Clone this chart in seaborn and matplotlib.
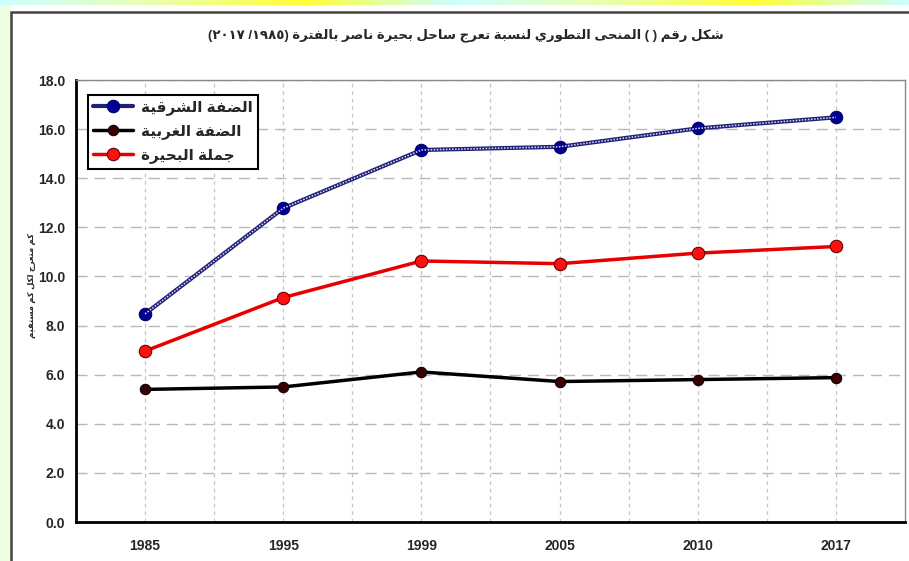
import numpy as np
import pandas as pd
import matplotlib
matplotlib.use("Agg")
import matplotlib.pyplot as plt
from matplotlib.patches import Rectangle
import seaborn as sns

# data
years = ["1985", "1995", "1999", "2005", "2010", "2017"]
east_bank = [8.48, 12.78, 15.15, 15.28, 16.03, 16.48]
west_bank = [5.40, 5.50, 6.11, 5.72, 5.80, 5.88]
lake_total = [6.96, 9.14, 10.63, 10.52, 10.95, 11.22]
y_ticks = [0, 2, 4, 6, 8, 10, 12, 14, 16, 18]

title_ar = "شكل رقم ( ) المنحى التطوري لنسبة تعرج ساحل بحيرة ناصر بالفترة"
title_years = "(٢٠١٧ /١٩٨٥) "
ylabel_ar = "كم متعرج لكل كم مستقيم"
names_ar = ["الضفة الشرقية", "الضفة الغربية", "جملة البحيرة"]

# minimal arabic shaping (presentation forms) since matplotlib has no RTL layout
AR = {
    "ا": (0xFE8D, 0), "ب": (0xFE8F, 1), "ة": (0xFE93, 0), "ت": (0xFE95, 1),
    "ث": (0xFE99, 1), "ج": (0xFE9D, 1), "ح": (0xFEA1, 1), "خ": (0xFEA5, 1),
    "د": (0xFEA9, 0), "ذ": (0xFEAB, 0), "ر": (0xFEAD, 0), "ز": (0xFEAF, 0),
    "س": (0xFEB1, 1), "ش": (0xFEB5, 1), "ص": (0xFEB9, 1), "ض": (0xFEBD, 1),
    "ط": (0xFEC1, 1), "ظ": (0xFEC5, 1), "ع": (0xFEC9, 1), "غ": (0xFECD, 1),
    "ف": (0xFED1, 1), "ق": (0xFED5, 1), "ك": (0xFED9, 1), "ل": (0xFEDD, 1),
    "م": (0xFEE1, 1), "ن": (0xFEE5, 1), "ه": (0xFEE9, 1), "و": (0xFEED, 0),
    "ى": (0xFEEF, 0), "ي": (0xFEF1, 1),
}


def ar(text):
    """Shape arabic letters and return them in visual (left-to-right) order."""
    out = []
    for i, c in enumerate(text):
        if c not in AR:
            out.append(c)
            continue
        base, dual = AR[c]
        prev = text[i - 1] if i > 0 else ""
        nxt = text[i + 1] if i + 1 < len(text) else ""
        jp = prev in AR and AR[prev][1] == 1
        jn = dual == 1 and nxt in AR
        if jp and jn:
            f = 3
        elif jp:
            f = 1
        elif jn:
            f = 2
        else:
            f = 0
        out.append(chr(base + f))
    s = "".join(out)[::-1]
    return s.translate(str.maketrans("()", ")("))


sns.set_theme(style="white")
plt.rcParams["font.family"] = ["Liberation Sans", "DejaVu Sans"]

fig = plt.figure(figsize=(9.09, 5.61), dpi=100)
W, H = 909, 561

# window-like decoration around the chart
fig.patches.append(Rectangle((0, 0), 11 / W, 1 - 5 / H, transform=fig.transFigure,
                             facecolor="#ecffe0", edgecolor="none", zorder=-2))
fig.patches.append(Rectangle((11 / W, -0.01), 1.0, 1 - 12 / H + 0.01, transform=fig.transFigure,
                             facecolor="white", edgecolor="#444444", lw=1.8, zorder=-1))
grad = fig.add_axes([0, 1 - 5 / H, 1, 5 / H])
grad.imshow(np.linspace(0, 1, 200)[None, :], aspect="auto",
            cmap=matplotlib.colors.LinearSegmentedColormap.from_list(
                "g", ["#ccffff", "#eaffb0", "#ffff33", "#ccffff", "#eaffb0", "#ffff33", "#ccffff"]))
grad.axis("off")

ax = fig.add_axes([76 / W, 1 - 522 / H, 829 / W, 442 / H])
ax.set_zorder(3)
x = np.arange(len(years))

df = pd.DataFrame({"x": x, "east": east_bank, "west": west_bank, "total": lake_total})

sns.lineplot(data=df, x="x", y="east", ax=ax, color="#202078", lw=3.0, marker="o",
             markersize=9, markerfacecolor="#000090", markeredgecolor="#000060",
             label=ar(names_ar[0]), zorder=5)
sns.lineplot(data=df, x="x", y="east", ax=ax, color="#dcdcf0", lw=1.1, ls=(0, (1, 1)),
             legend=False, zorder=6)
sns.lineplot(data=df, x="x", y="west", ax=ax, color="black", lw=2.5, marker="o",
             markersize=7.5, markerfacecolor="#3a0000", markeredgecolor="black",
             label=ar(names_ar[1]), zorder=5)
sns.lineplot(data=df, x="x", y="total", ax=ax, color="#e80000", lw=2.5, marker="o",
             markersize=9, markerfacecolor="#ff1010", markeredgecolor="#600000",
             label=ar(names_ar[2]), zorder=5)

ax.set_xlim(-0.5, len(years) - 0.5)
ax.set_ylim(0, 18)
ax.set_yticks(y_ticks)
ax.set_yticklabels([f"{v:.1f}" for v in y_ticks], fontsize=10, fontweight="bold")
ax.set_xticks(np.arange(-0.5, len(years)))
ax.set_xticklabels([])
ax.set_xticks(x, minor=True)
ax.set_xticklabels(years, minor=True, fontsize=10, fontweight="bold")
ax.tick_params(axis="x", which="major", direction="out", length=6, width=2, colors="black")
ax.tick_params(axis="x", which="minor", length=0, pad=12)
ax.tick_params(axis="y", direction="inout", length=8, width=1.5, pad=4)
ax.set_xlabel("")
ax.set_ylabel("")

# grid: long dashes horizontally, short dashes vertically (centres and boundaries)
for v in y_ticks[1:]:
    ax.axhline(v, color="#b8b8b8", lw=1, ls=(0, (8, 5)), zorder=1)
for v in np.arange(-0.5, len(years), 0.5)[1:-1]:
    ax.axvline(v, color="#c4c4c4", lw=0.9, ls=(0, (3, 3)), zorder=1)

for s in ["left", "bottom"]:
    ax.spines[s].set_color("black")
    ax.spines[s].set_linewidth(2)
for s in ["top", "right"]:
    ax.spines[s].set_color("#888888")
    ax.spines[s].set_linewidth(1)

leg = ax.legend(loc="upper left", bbox_to_anchor=(0.0145, 0.966), borderaxespad=0,
                frameon=True, fancybox=False, edgecolor="black", framealpha=1,
                borderpad=0.35, handlelength=2.6, handletextpad=0.5, labelspacing=0.6,
                prop={"weight": "bold", "size": 11})
leg.get_frame().set_linewidth(1.5)

fig.text(466 / W, 1 - 35 / H, title_years + ar(title_ar), ha="center", va="center",
         fontsize=9.5, fontweight="bold", zorder=4)
fig.text(32 / W, 1 - 285 / H, ar(ylabel_ar), rotation=90, ha="center", va="center",
         fontsize=6, fontweight="bold", zorder=4)

fig.savefig("out.png", dpi=100)
